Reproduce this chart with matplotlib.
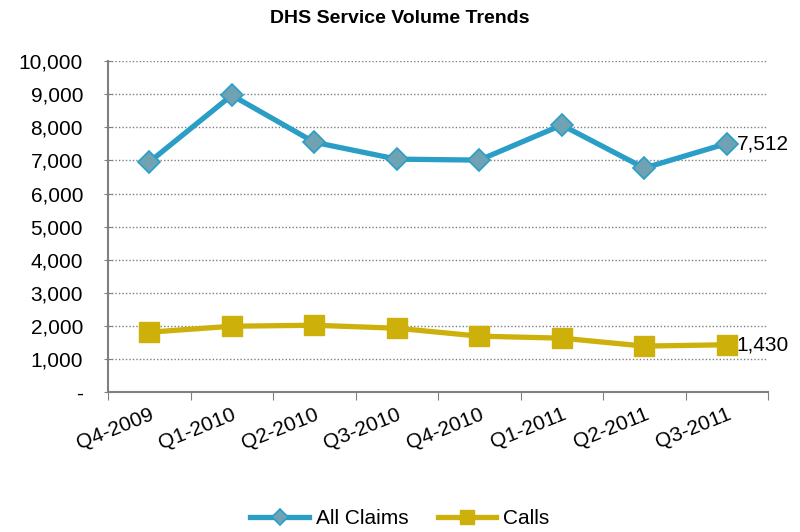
import matplotlib.pyplot as plt
from matplotlib.ticker import FuncFormatter

plt.rcParams['font.family'] = ['Liberation Sans', 'DejaVu Sans']

quarters = ['Q4-2009', 'Q1-2010', 'Q2-2010', 'Q3-2010', 'Q4-2010',
            'Q1-2011', 'Q2-2011', 'Q3-2011']
all_claims = [6950, 8970, 7550, 7040, 7010, 8070, 6770, 7512]
calls = [1810, 1990, 2020, 1930, 1690, 1630, 1390, 1430]

blue = '#2a9ec6'
gold = '#cdb10a'

fig = plt.figure(figsize=(8, 5.32), dpi=100)
ax = fig.add_axes([0.135, 0.263, 0.825, 0.622])

x = range(len(quarters))
ax.plot(x, all_claims, color=blue, lw=3.8, marker='D', ms=11,
        mfc='#6fa3b3', mec=blue, mew=1.2, label='All Claims', zorder=3)
ax.plot(x, calls, color=gold, lw=3.8, marker='s', ms=14,
        mfc=gold, mec=gold, label='Calls', zorder=3)

ax.annotate(f'{all_claims[-1]:,}', (x[-1], all_claims[-1]), xytext=(7, 0),
            textcoords='offset points', va='center', fontsize=15)
ax.annotate(f'{calls[-1]:,}', (x[-1], calls[-1]), xytext=(7, 0),
            textcoords='offset points', va='center', fontsize=15)

ax.set_xlim(-0.5, len(quarters) - 0.5)
ax.set_ylim(0, 10000)
ax.set_yticks(range(0, 10001, 1000))
ax.yaxis.set_major_formatter(FuncFormatter(lambda v, p: '-' if v == 0 else f'{int(v):,}'))
ax.grid(axis='y', color='#7f7f7f', ls=(0, (1, 1.5)), lw=1)
ax.set_axisbelow(True)

ax.set_xticks([i - 0.5 for i in range(len(quarters) + 1)])
ax.set_xticklabels([])
ax.set_xticks(list(x), minor=True)
ax.set_xticklabels(quarters, minor=True, rotation=22, ha='right',
                   rotation_mode='anchor', fontsize=15)
ax.tick_params(axis='x', which='minor', length=0, pad=9)
ax.tick_params(axis='x', which='major', length=6, color='#808080', direction='out')
ax.tick_params(axis='y', length=6, color='#808080', labelsize=15, direction='inout', pad=15)

for s in ['top', 'right']:
    ax.spines[s].set_visible(False)
for s in ['left', 'bottom']:
    ax.spines[s].set_color('#808080')
    ax.spines[s].set_linewidth(1.5)

fig.text(0.5, 0.965, 'DHS Service Volume Trends', ha='center', va='center',
         fontsize=14, fontweight='bold')

fig.legend(loc='center', bbox_to_anchor=(0.5, 0.025), ncol=2, frameon=False,
           fontsize=15, handlelength=2.8, columnspacing=1.4, handletextpad=0.35,
           markerscale=0.75)

fig.savefig('out.png', dpi=100)
